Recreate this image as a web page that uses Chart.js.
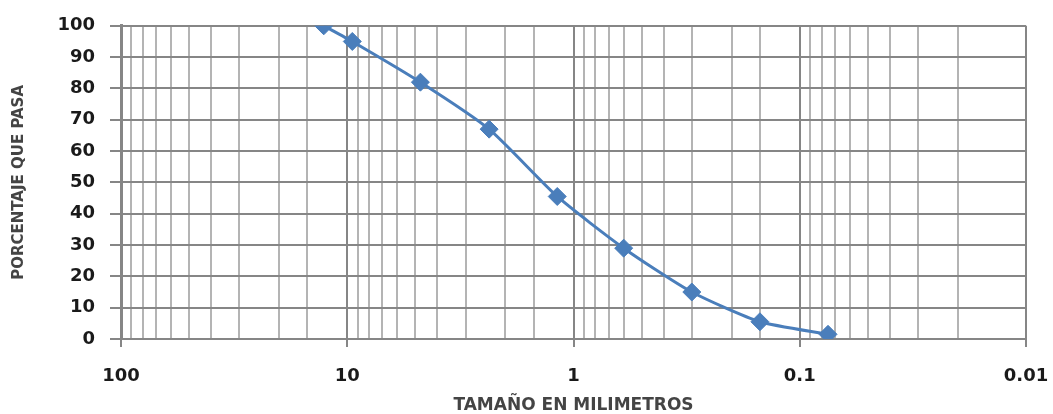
<!DOCTYPE html>
<html>
<head>
<meta charset="utf-8">
<script src="https://cdn.jsdelivr.net/npm/chart.js@4"></script>
<style>
html,body{margin:0;padding:0;background:#fff;}
#wrap{width:1053px;height:414px;}
</style>
</head>
<body>
<div id="wrap"><canvas id="c" width="1053" height="414"></canvas></div>
<script>
// Data (sieve size in mm vs. percent passing)
const sizes = [12.7, 9.5, 4.75, 2.36, 1.18, 0.6, 0.3, 0.15, 0.075];
const passing = [100, 95, 82, 67, 45.5, 29, 15, 5.5, 1.5];
const xTickValues = [100, 10, 1, 0.1, 0.01];
const xTickLabels = ['100', '10', '1', '0.1', '0.01'];
const yTickStep = 10;
const yMin = 0, yMax = 100;
const xTitle = 'TAMAÑO EN MILIMETROS';
const yTitle = 'PORCENTAJE QUE PASA';

const points = sizes.map((s, i) => ({x: s, y: passing[i]}));
const isMajor = v => Math.abs(Math.log10(v) - Math.round(Math.log10(v))) < 1e-6;
const labelFor = v => {
  for (let i = 0; i < xTickValues.length; i++) {
    if (Math.abs(Math.log10(v) - Math.log10(xTickValues[i])) < 1e-6) return xTickLabels[i];
  }
  return '';
};

const dark = '#868686';
const light = '#b4b4b4';
const blue = '#4a7ebb';

new Chart(document.getElementById('c'), {
  type: 'line',
  data: {
    datasets: [{
      data: points,
      borderColor: blue,
      backgroundColor: blue,
      borderWidth: 3,
      tension: 0.2,
      pointStyle: 'rectRot',
      pointRadius: 9,
      pointBorderWidth: 1,
      pointBackgroundColor: blue,
      pointBorderColor: blue,
      fill: false
    }]
  },
  options: {
    responsive: false,
    animation: false,
    layout: {padding: {left: 0, right: 27, top: 22, bottom: 0}},
    plugins: {legend: {display: false}, tooltip: {enabled: false}},
    scales: {
      x: {
        type: 'logarithmic',
        reverse: true,
        min: 0.01,
        max: 100,
        border: {display: true, color: dark, width: 2},
        grid: {
          color: ctx => (ctx.tick && isMajor(ctx.tick.value)) ? dark : light,
          lineWidth: 2,
          drawTicks: true,
          tickLength: 8,
          tickColor: ctx => (ctx.tick && isMajor(ctx.tick.value)) ? dark : 'rgba(0,0,0,0)',
          tickWidth: 2
        },
        ticks: {
          autoSkip: false,
          maxRotation: 0,
          minRotation: 0,
          padding: 19,
          color: '#1a1a1a',
          font: {family: 'DejaVu Sans', weight: 'bold', size: 18},
          callback: (v) => labelFor(v)
        },
        title: {
          display: true,
          text: xTitle,
          color: '#444',
          font: {family: 'DejaVu Sans', weight: 'bold', size: 17, lineHeight: 1},
          padding: {top: 0, bottom: 0}
        },
        afterFit: s => { s.height = 75; s.paddingLeft = 0; s.paddingRight = 0; }
      },
      y: {
        min: yMin,
        max: yMax,
        border: {display: true, color: dark, width: 3},
        grid: {
          color: dark,
          lineWidth: 2,
          drawTicks: true,
          tickLength: 11,
          tickColor: dark,
          tickWidth: 2
        },
        ticks: {
          stepSize: yTickStep,
          padding: 15,
          color: '#1a1a1a',
          font: {family: 'DejaVu Sans', weight: 'bold', size: 18}
        },
        title: {
          display: true,
          text: yTitle,
          color: '#444',
          font: {family: 'DejaVu Sans', weight: 'bold', size: 15},
          padding: {top: 10, bottom: 0}
        },
        afterFit: s => { s.width = 121; }
      }
    }
  }
});
</script>
</body>
</html>
